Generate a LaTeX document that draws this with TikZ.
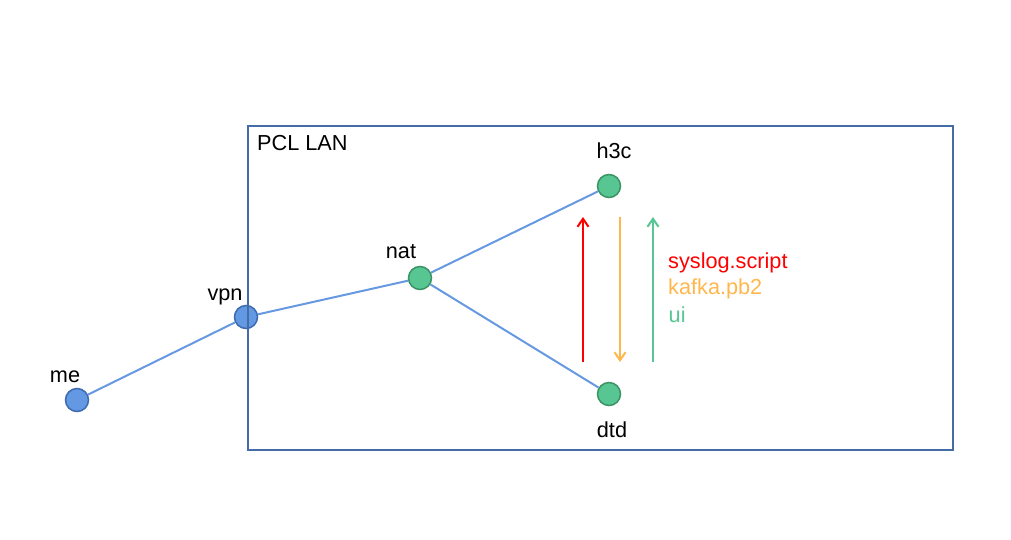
\documentclass[tikz,border=0pt]{standalone}
\usepackage{fontspec}
\setmainfont{Liberation Sans}
\usetikzlibrary{calc,arrows.meta}
\definecolor{linkblue}{RGB}{102,153,226}
\definecolor{hostblue}{RGB}{99,152,227}
\definecolor{hostblueedge}{RGB}{62,107,176}
\definecolor{hostgreen}{RGB}{87,198,146}
\definecolor{hostgreenedge}{RGB}{58,148,99}
\definecolor{lanblue}{RGB}{70,108,168}
\definecolor{flowred}{RGB}{255,0,0}
\definecolor{floworange}{RGB}{255,183,77}
\definecolor{flowgreen}{RGB}{87,198,146}
\newcommand{\textsize}{\fontsize{21.7}{26}\selectfont}
\newcommand{\makehost}[6]{
	\node[#4] (#1) at (#2,#3) {};
	\node[lbl] at ($(#1)+(#5,#6)$) {#1};
}

\begin{document}
\begin{tikzpicture}[x=1pt,y=-1pt,
	lbl/.style={inner sep=0,font=\textsize},
	host/.style={circle,minimum size=23pt,inner sep=0,line width=1.5pt},
	bluehost/.style={host,fill=hostblue,draw=hostblueedge},
	greenhost/.style={host,fill=hostgreen,draw=hostgreenedge},
	link/.style={linkblue,line width=2pt},
	flow/.style={line width=2pt,-{Straight Barb[length=8pt,width=11pt]}}]
	\useasboundingbox (0,0) rectangle (1011,539);

	\makehost{me}{77}{400}{bluehost}{-12}{-23}
	\makehost{vpn}{246}{317}{bluehost}{-21}{-20}
	\makehost{nat}{420}{278}{greenhost}{-19}{-26}
	\makehost{h3c}{609}{186}{greenhost}{5}{-35}
	\makehost{dtd}{609}{394}{greenhost}{3}{36}

	\draw[link] (me) -- (vpn) -- (nat) -- (h3c);
	\draw[link] (nat) -- (dtd);

	% LAN border
	\draw[lanblue, line width=2pt] (248,126) rectangle (953,450);
	\node[lbl,anchor=west] (lan) at (257,143) {PCL LAN};

	\coordinate (sysfoot) at (583,362);
	\coordinate (systip) at (583,217);
	\coordinate (kafkafoot) at (620,217);
	\coordinate (kafkatip) at (620,362);
	\coordinate (uifoot) at (653,362);
	\coordinate (uitip) at (653,217);

	\draw[flow,flowred] (sysfoot) -- (systip);
	\draw[flow,floworange] (kafkafoot) -- (kafkatip);
	\draw[flow,flowgreen] (uifoot) -- (uitip);

	\node[lbl,anchor=west,text=flowred] (syslog) at (668,263) {syslog.script};
	\node[lbl,anchor=west,text=floworange] (kafka) at (668,288.5) {kafka.pb2};
	\node[lbl,anchor=west,text=flowgreen] (ui) at (668.5,314.5) {ui};
\end{tikzpicture}
\end{document}
